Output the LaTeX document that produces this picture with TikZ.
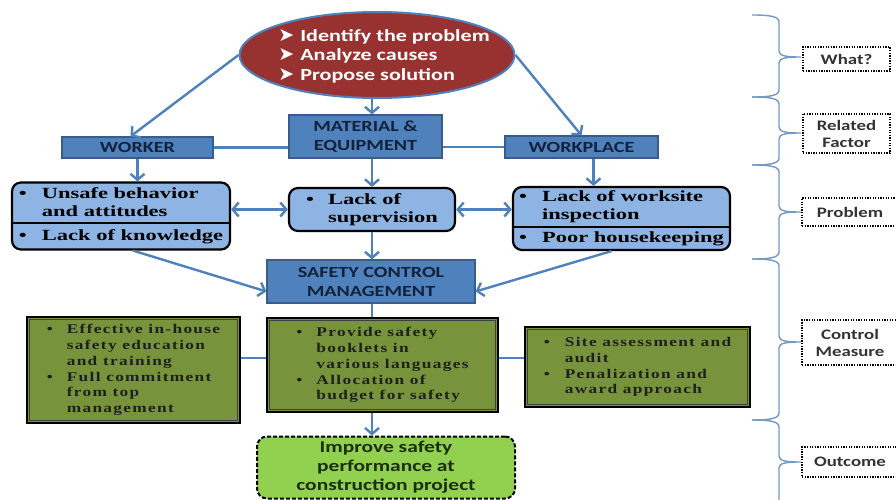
\documentclass[tikz,border=0pt]{standalone}
\usepackage{fontspec}
\setmainfont{Liberation Serif}
\newfontfamily\calib[FakeStretch=1.3]{Carlito}
\newfontfamily\tmsb[FakeStretch=1.45]{Liberation Serif}
\newfontfamily\tmsg[FakeStretch=1.3,LetterSpace=10]{Liberation Serif}
\newfontfamily\dvs{DejaVu Sans}
\usetikzlibrary{shapes.geometric,arrows.meta}
\definecolor{blfill}{HTML}{4F81BD}
\definecolor{bldraw}{HTML}{385D8A}
\definecolor{arrc}{HTML}{4F81BD}
\definecolor{redf}{HTML}{983231}
\definecolor{ltblue}{HTML}{8DB4E2}
\definecolor{grn}{HTML}{77933C}
\definecolor{ltgreen}{HTML}{92D050}
\definecolor{bracec}{HTML}{7399C6}
\definecolor{txtdark}{HTML}{13213A}
\definecolor{outtxt}{HTML}{1B2F10}
\newcommand{\bul}[1]{\makebox[#1][l]{\textbullet}}
\newcommand{\ind}[1]{\hspace*{#1}}
\newcommand{\arh}{\makebox[22pt][l]{\dvs\fontsize{19}{20}\selectfont ➤}}
\newcommand{\mybrace}[3]{%
  \draw[brc] (752,#1) .. controls (768,#1) and (779,#1+1) .. (779,#1+7)
    -- (779,#2-6) .. controls (779,#2-1) and (786,#2) .. (801,#2)
    .. controls (786,#2) and (779,#2+1) .. (779,#2+6)
    -- (779,#3-7) .. controls (779,#3-1) and (768,#3) .. (752,#3);}
\tikzset{
  arr/.style={draw=arrc, line width=2.4pt, -{Straight Barb[length=6pt,width=14pt]}},
  dbl/.style={draw=arrc, line width=2.4pt, {Straight Barb[length=6pt,width=14pt]}-{Straight Barb[length=6pt,width=14pt]}},
  ln/.style={draw=arrc, line width=2.4pt},
  brc/.style={draw=bracec, line width=1.4pt},
  bluebox/.style={draw=bldraw, fill=blfill, line width=1.2pt, inner sep=0pt,
    font=\calib\bfseries\fontsize{15.5}{19}\selectfont, text=txtdark, align=center},
  probbox/.style={draw=black, fill=ltblue, line width=2.2pt, rounded corners=9pt, inner sep=0pt,
    font=\tmsb\bfseries\fontsize{15.5}{18}\selectfont, align=left, text=black},
  grbox/.style={draw=black, fill=grn, line width=2.6pt, inner sep=0pt,
    font=\tmsg\bfseries\fontsize{13.3}{15.8}\selectfont, align=left, text=black!88},
  lbl/.style={draw=black, dash pattern=on 1.3pt off 1.3pt, line width=1.5pt, fill=white,
    font=\calib\bfseries\fontsize{14.5}{17}\selectfont, text=black!80, align=center, inner sep=0pt},
}
\begin{document}
\begin{tikzpicture}[x=1pt,y=-1pt]
\useasboundingbox[fill=white] (0,0) rectangle (896,500);
% top ellipse
\node[ellipse, draw=blfill, fill=redf, line width=2pt, minimum width=275pt, minimum height=86pt, inner sep=0pt] (ell) at (377,55) {};
\node[text=white, align=left, font=\calib\bfseries\fontsize{17}{19.5}\selectfont, inner sep=0pt] (elltxt) at (384,56)
  {\arh Identify the problem\\ \arh Analyze causes\\ \arh Propose solution};
% factor boxes
\node[bluebox, minimum width=153pt, minimum height=43pt] (me) at (365.5,136.5) {MATERIAL \&\\EQUIPMENT};
\node[bluebox, minimum width=151pt, minimum height=21pt] (wk) at (137.5,147.5) {WORKER};
\node[bluebox, minimum width=153pt, minimum height=22pt] (wp) at (581.5,147) {WORKPLACE};
% problem boxes
\node[probbox, minimum width=218pt, minimum height=67pt] (p1) at (121,216)
  {\bul{23pt}Unsafe behavior\\ \ind{23pt}and attitudes\\[6pt] \bul{23pt}Lack of knowledge};
\node[probbox, minimum width=166pt, minimum height=43pt] (p2) at (372,209.5)
  {\bul{22pt}Lack of\\ \ind{22pt}supervision};
\node[probbox, minimum width=217pt, minimum height=63pt] (p3) at (621.5,218.5)
  {\bul{23pt}Lack of worksite\\ \ind{23pt}inspection\\[5pt] \bul{23pt}Poor housekeeping};
\draw[line width=2pt] (p1.west |- 0,223) -- (p1.east |- 0,223);
\draw[line width=2pt] (p3.west |- 0,227) -- (p3.east |- 0,227);
% safety control management
\node[bluebox, minimum width=208pt, minimum height=43pt] (scm) at (371,281.5) {SAFETY CONTROL\\MANAGEMENT};
% control measure boxes
\node[grbox, minimum width=213pt, minimum height=106pt] (g1) at (133.5,370)
  {\bul{20pt}Effective in-house\\ \ind{20pt}safety education\\ \ind{20pt}and training\\ \bul{20pt}Full commitment\\ \ind{20pt}from top\\ \ind{20pt}management};
\node[grbox, minimum width=231pt, minimum height=94pt] (g2) at (382.5,365)
  {\bul{20pt}Provide safety\\ \ind{20pt}booklets in\\ \ind{20pt}various languages\\ \bul{20pt}Allocation of\\ \ind{20pt}budget for safety};
\node[grbox, minimum width=225pt, minimum height=80pt] (g3) at (637.5,367)
  {\bul{21pt}Site assessment and\\ \ind{21pt}audit\\ \bul{21pt}Penalization and\\ \ind{21pt}award approach};
\foreach \g in {g1,g2,g3}{
  \draw[line width=0.8pt, black!75] ([shift={(3.5pt,-3.5pt)}]\g.north west) rectangle ([shift={(-3.5pt,3.5pt)}]\g.south east);
}
% outcome
\node[draw=black, dash pattern=on 4pt off 2pt, line width=2pt, fill=ltgreen, rounded corners=10pt,
  minimum width=258pt, minimum height=62pt, inner sep=0pt,
  font=\calib\bfseries\fontsize{16.5}{19}\selectfont, text=outtxt, align=center] (out) at (386,467.5)
  {Improve safety\\performance at\\construction project};
% connectors
\draw[arr] (ell.west) -- ([xshift=-7pt]wk.north);
\draw[arr] (ell.south -| p2) -- (me.north -| p2);
\draw[arr] (ell.east) -- (wp.north);
\draw[ln] (wk.east) -- (wk.east -| me.west);
\draw[ln] (wp.west -| me.east) -- (wp.west);
\draw[arr] (wk.south) -- (wk.south |- p1.north);
\draw[arr] (me.south -| p2) -- (p2.north);
\draw[arr] ([xshift=12pt]wp.south) -- ([xshift=12pt]wp.south |- p3.north);
\draw[dbl] (p2.west -| p1.east) -- (p2.west);
\draw[dbl] (p2.east) -- (p2.east -| p3.west);
\draw[arr] (p2.south) -- (p2.south |- scm.north);
\draw[arr] ([xshift=12pt]p1.south) -- ([yshift=-10pt]scm.west);
\draw[arr] ([xshift=-10pt]p3.south) -- ([yshift=-10pt]scm.east);
\coordinate (gy) at (0,358);
\draw[ln] (scm.south -| p2) -- (g2.north -| p2);
\draw[ln] (gy -| g1.east) -- (gy -| g2.west);
\draw[ln] (gy -| g2.east) -- (gy -| g3.west);
\draw[arr] (g2.south -| p2) -- (out.north -| p2);
% right side braces and labels
\mybrace{15}{57}{97}
\mybrace{97}{133}{165}
\mybrace{165}{212}{259}
\mybrace{259}{342}{420}
\draw[brc] (752,420) .. controls (768,420) and (779,421) .. (779,427) -- (779,456)
  .. controls (779,461) and (786,462) .. (801,462) .. controls (786,462) and (779,463) .. (779,468) -- (779,500);
\node[lbl, minimum width=87pt, minimum height=24pt] (lwhat) at (846.5,59) {What?};
\node[lbl, minimum width=87pt, minimum height=39pt] (lrel) at (846.5,133.5) {Related\\Factor};
\node[lbl, minimum width=96pt, minimum height=28pt] (lprob) at (850,212) {Problem};
\node[lbl, minimum width=96pt, minimum height=45pt] (lctrl) at (850,342.5) {Control\\Measure};
\node[lbl, minimum width=96pt, minimum height=30pt] (lout) at (850,462) {Outcome};
\end{tikzpicture}
\end{document}
